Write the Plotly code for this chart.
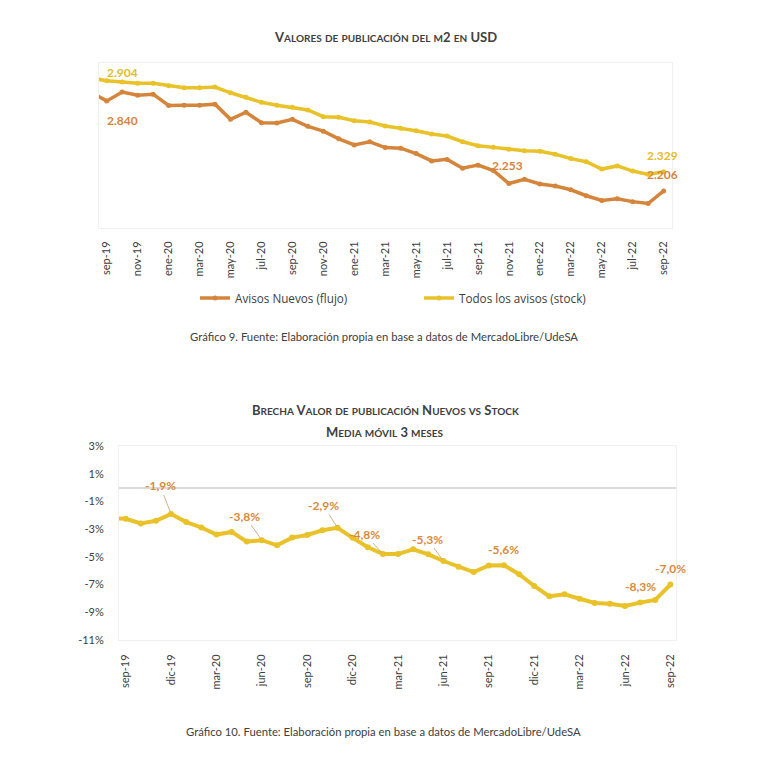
import plotly.graph_objects as go

# ---------------- data ----------------
months = ["ago-19", "sep-19", "oct-19", "nov-19", "dic-19",
          "ene-20", "feb-20", "mar-20", "abr-20", "may-20", "jun-20", "jul-20", "ago-20", "sep-20", "oct-20", "nov-20", "dic-20",
          "ene-21", "feb-21", "mar-21", "abr-21", "may-21", "jun-21", "jul-21", "ago-21", "sep-21", "oct-21", "nov-21", "dic-21",
          "ene-22", "feb-22", "mar-22", "abr-22", "may-22", "jun-22", "jul-22", "ago-22", "sep-22"]

# USD per m2
avisos_nuevos = [2836, 2783, 2840, 2820, 2826, 2754, 2755, 2755, 2762, 2665, 2710, 2643, 2641, 2665, 2620, 2589, 2540,
                 2501, 2521, 2484, 2480, 2445, 2398, 2408, 2351, 2371, 2336, 2253, 2280, 2250, 2237, 2213, 2175,
                 2145, 2155, 2137, 2125, 2206]
todos_avisos = [2930, 2912, 2904, 2896, 2896, 2880, 2867, 2867, 2872, 2835, 2806, 2774, 2755, 2742, 2725, 2682, 2678,
                2656, 2648, 2622, 2607, 2592, 2571, 2558, 2521, 2496, 2485, 2473, 2464, 2460, 2441, 2413, 2393,
                2346, 2366, 2333, 2312, 2329]

# Brecha (%), media movil 3 meses
brecha = [-2.2, -2.25, -2.59, -2.40, -1.9, -2.49, -2.88, -3.39, -3.20, -3.90, -3.8, -4.17, -3.61, -3.42, -3.08, -2.9,
          -3.63, -4.31, -4.8, -4.80, -4.46, -4.82, -5.3, -5.72, -6.10, -5.62, -5.6, -6.25, -7.10, -7.85, -7.70,
          -8.02, -8.33, -8.38, -8.55, -8.3, -8.11, -7.0]

ticks_1 = ["sep-19", "nov-19", "ene-20", "mar-20", "may-20", "jul-20", "sep-20", "nov-20", "ene-21", "mar-21",
           "may-21", "jul-21", "sep-21", "nov-21", "ene-22", "mar-22", "may-22", "jul-22", "sep-22"]
ticks_2 = ["sep-19", "dic-19", "mar-20", "jun-20", "sep-20", "dic-20", "mar-21", "jun-21", "sep-21", "dic-21",
           "mar-22", "jun-22", "sep-22"]
y2_ticks = [3, 1, -1, -3, -5, -7, -9, -11]

labels_1 = [  # (series, month, xshift, yshift)
    ("stock", "oct-19", 0, 10),
    ("nuevos", "oct-19", 0, -28),
    ("nuevos", "nov-21", -1, 18),
    ("nuevos", "sep-22", -1, 16),
    ("stock", "sep-22", -1, 16),
]
labels_2 = [  # month, ax, ay (arrow) or None
    ("dic-19", -11, -28),
    ("jun-20", -17, -24),
    ("nov-20", -14, -22),
    ("feb-21", -18, -20),
    ("jun-21", -16, -22),
    ("oct-21", None, 16),
    ("jul-22", None, 16),
    ("sep-22", None, 16),
]

BROWN = "#D4853B"
YELLOW = "#E9C22A"
LABEL_OR = "#D88A3A"
TXT = "#404040"
FONT = "Lato"

OFF = 8          # page body margin
W = H = 760


def px_x(p):
    return (p - OFF) / W


def px_y(p):
    return 1 - (p - OFF) / H


def smallcaps(text, big, small):
    out = []
    for ch in text:
        if ch.islower():
            out.append(f"<span style='font-size:{small}px'>{ch.upper()}</span>")
        else:
            out.append(f"<span style='font-size:{big}px'>{ch}</span>")
    return "".join(out)


fig = go.Figure()

fig.add_trace(go.Scatter(x=months, y=avisos_nuevos, name="Avisos Nuevos (flujo)", mode="lines+markers",
                         line=dict(color=BROWN, width=3.5), marker=dict(size=5, color=BROWN),
                         xaxis="x", yaxis="y", cliponaxis=True))
fig.add_trace(go.Scatter(x=months, y=todos_avisos, name="Todos los avisos (stock)", mode="lines+markers",
                         line=dict(color=YELLOW, width=3.5), marker=dict(size=5, color=YELLOW),
                         xaxis="x", yaxis="y", cliponaxis=True))
fig.add_trace(go.Scatter(x=months, y=brecha, name="Brecha", mode="lines+markers", showlegend=False,
                         line=dict(color=YELLOW, width=4), marker=dict(size=6, color=YELLOW),
                         xaxis="x2", yaxis="y2", cliponaxis=True))

annotations = []
series = {"nuevos": (avisos_nuevos, BROWN), "stock": (todos_avisos, "#E3BB2A")}
for s, m, xs, ys in labels_1:
    vals, col = series[s]
    v = vals[months.index(m)]
    annotations.append(dict(x=m, y=v, xref="x", yref="y", text=f"<b>{v:,}</b>".replace(",", "."),
                            showarrow=False, xshift=xs, yshift=ys,
                            font=dict(family=FONT, size=12, color=col)))

for m, ax, ay in labels_2:
    v = brecha[months.index(m)]
    txt = f"<b>{v:.1f}%</b>".replace(".", ",")
    if ax is None:
        annotations.append(dict(x=m, y=v, xref="x2", yref="y2", text=txt, showarrow=False, yshift=ay,
                                font=dict(family=FONT, size=12, color=LABEL_OR)))
    else:
        annotations.append(dict(x=m, y=v, xref="x2", yref="y2", text=txt, showarrow=True, arrowhead=0,
                                arrowwidth=0.8, arrowcolor="#C99A6A", ax=ax, ay=ay, standoff=2,
                                font=dict(family=FONT, size=12, color=LABEL_OR)))


# titles and captions
def paper_text(x, y, text, size):
    return dict(xref="paper", yref="paper", x=px_x(x), y=px_y(y), xanchor="center", yanchor="middle",
                showarrow=False, text=text, font=dict(family=FONT, size=size, color=TXT))


annotations.append(paper_text(385, 37, "<b>" + smallcaps("Valores de publicación del m2 en USD", 13, 10) + "</b>", 13))
annotations.append(paper_text(385, 410, "<b>" + smallcaps("Brecha Valor de publicación Nuevos vs Stock", 13, 10) + "</b>", 13))
annotations.append(paper_text(385, 432, "<b>" + smallcaps("Media móvil 3 meses", 13, 10) + "</b>", 13))
annotations.append(paper_text(384, 336, "Gráfico 9. Fuente: Elaboración propia en base a datos de MercadoLibre/UdeSA", 11.3))
annotations.append(paper_text(383, 731, "Gráfico 10. Fuente: Elaboración propia en base a datos de MercadoLibre/UdeSA", 11.3))

fig.update_layout(
    width=W, height=H, margin=dict(l=0, r=0, t=0, b=0, autoexpand=False),
    paper_bgcolor="white", plot_bgcolor="white",
    font=dict(family=FONT, size=11, color=TXT),
    showlegend=True,
    legend=dict(orientation="h", x=px_x(195), y=px_y(298), xanchor="left", yanchor="middle",
                font=dict(family="Open Sans", size=11.7, color=TXT), entrywidth=179, entrywidthmode="pixels",
                bgcolor="rgba(0,0,0,0)"),
    xaxis=dict(domain=[px_x(99), px_x(672)], anchor="y", type="category", categoryorder="array",
               categoryarray=months, range=[0.5, 37.54], tickmode="array", tickvals=ticks_1,
               ticktext=ticks_1, tickangle=-90, ticks="", ticklabelstandoff=8,
               showgrid=False, zeroline=False, showline=True, linecolor="#F0F0F0", mirror=True,
               tickfont=dict(family=FONT, size=11, color=TXT)),
    yaxis=dict(domain=[px_y(228), px_y(63)], anchor="x", range=[1968, 3026], showticklabels=False,
               ticks="", showgrid=False, zeroline=False, showline=True, linecolor="#F0F0F0", mirror=True),
    xaxis2=dict(domain=[px_x(119), px_x(676)], anchor="y2", type="category", categoryorder="array",
                categoryarray=months, range=[0.557, 37.37], tickmode="array", tickvals=ticks_2,
                ticktext=ticks_2, tickangle=-90, ticks="", ticklabelstandoff=9,
                showgrid=False, zeroline=False, showline=True, linecolor="#F0F0F0", mirror=True,
                tickfont=dict(family=FONT, size=11, color=TXT)),
    yaxis2=dict(domain=[px_y(640), px_y(446)], anchor="x2", range=[-11, 3], tickmode="array",
                tickvals=y2_ticks, ticktext=[f"{t}%" for t in y2_ticks], ticks="", ticklabelstandoff=12,
                showgrid=False, zeroline=True, zerolinecolor="#DADADA", zerolinewidth=1.5,
                showline=True, linecolor="#F0F0F0", mirror=True,
                tickfont=dict(family=FONT, size=11, color=TXT)),
    annotations=annotations,
)

fig.write_html("out.html")
